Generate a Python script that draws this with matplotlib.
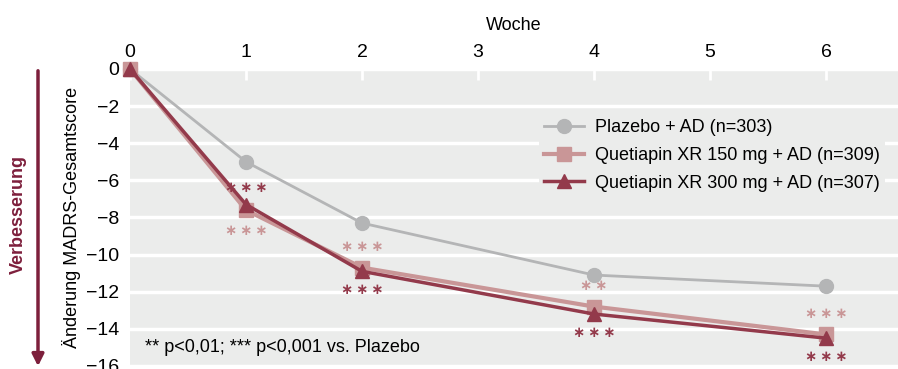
import matplotlib.pyplot as plt
from matplotlib.patches import FancyArrowPatch

# data
weeks = [0, 1, 2, 4, 6]
placebo = [0, -5.0, -8.3, -11.1, -11.7]
q150 = [0, -7.6, -10.7, -12.8, -14.3]
q300 = [0, -7.3, -10.9, -13.2, -14.5]
labels = ['Plazebo + AD (n=303)',
          'Quetiapin XR 150 mg + AD (n=309)',
          'Quetiapin XR 300 mg + AD (n=307)']
# significance marks per week 1, 2, 4, 6
stars_q150 = ['***', '***', '**', '***']
stars_q300 = ['***', '***', '***', '***']
q150_above = [False, True, True, True]

c_plac = '#b4b5b6'
c_150 = '#c99697'
c_300 = '#933a4b'
c_arrow = '#7d1f3c'
bg = '#ebeceb'

plt.rcParams['font.family'] = ['Liberation Sans', 'DejaVu Sans']

fig = plt.figure(figsize=(8.98, 3.69), dpi=100)
ax = fig.add_axes([130 / 898, 3 / 369, 768 / 898, 297 / 369])
ax.set_facecolor(bg)
for s in ax.spines.values():
    s.set_visible(False)

ax.plot(weeks, placebo, color=c_plac, lw=2, marker='o', ms=10, label=labels[0], clip_on=False, zorder=3)
ax.plot(weeks, q150, color=c_150, lw=3, marker='s', ms=10, label=labels[1], clip_on=False, zorder=4)
ax.plot(weeks, q300, color=c_300, lw=2.5, marker='^', ms=10, label=labels[2], clip_on=False, zorder=5)

def star(x, y, txt, col):
    ax.text(x, y, '\u2009'.join(['\u2217'] * len(txt)), color=col, fontsize=10.5,
            ha='center', va='center', family='DejaVu Sans', fontweight='bold', zorder=6)

for i, w in enumerate(weeks[1:]):
    if q150_above[i]:
        star(w, q150[i + 1] + 1.15, stars_q150[i], c_150)
        star(w, q300[i + 1] - 1.0, stars_q300[i], c_300)
    else:
        star(w, q300[i + 1] + 0.9, stars_q300[i], c_300)
        star(w, q150[i + 1] - 1.1, stars_q150[i], c_150)

ax.set_xlim(0, 768 / 116)
ax.set_ylim(-16, 0)
ax.set_yticks(range(-16, 1, 2))
ax.set_yticklabels([('\u2212' + str(-v)) if v < 0 else str(v) for v in range(-16, 1, 2)], fontsize=14)
ax.set_xticks(range(0, 7))
ax.xaxis.tick_top()
ax.xaxis.set_label_position('top')
ax.tick_params(axis='x', direction='in', length=8, width=2, color='white', labelsize=14, pad=6)
ax.tick_params(axis='y', length=0, pad=8)
ax.grid(axis='y', color='white', lw=2.5)
ax.set_axisbelow(True)
ax.set_xlabel('Woche', fontsize=13, labelpad=10)
ax.set_ylabel('Änderung MADRS-Gesamtscore', fontsize=13, labelpad=3)

ax.text(0.13, -15.0, '** p<0,01; *** p<0,001 vs. Plazebo', fontsize=13, va='center', ha='left')

leg = ax.legend(loc='upper right', bbox_to_anchor=(0.995, 0.88), fontsize=13, frameon=True,
                facecolor=bg, edgecolor='none', framealpha=1, handlelength=2.2,
                labelspacing=0.6, borderpad=0.3, handletextpad=0.6)

fig.text(18 / 898, 1 - 215 / 369, 'Verbesserung', rotation=90, color=c_arrow, fontsize=13,
         fontweight='bold', ha='center', va='center')
fig.patches.append(FancyArrowPatch((38 / 898, 1 - 68 / 369), (38 / 898, 0.0),
                                   transform=fig.transFigure, arrowstyle='-|>,head_length=7,head_width=3.5',
                                   color=c_arrow, lw=2.5))

fig.savefig('out.png', dpi=100)
